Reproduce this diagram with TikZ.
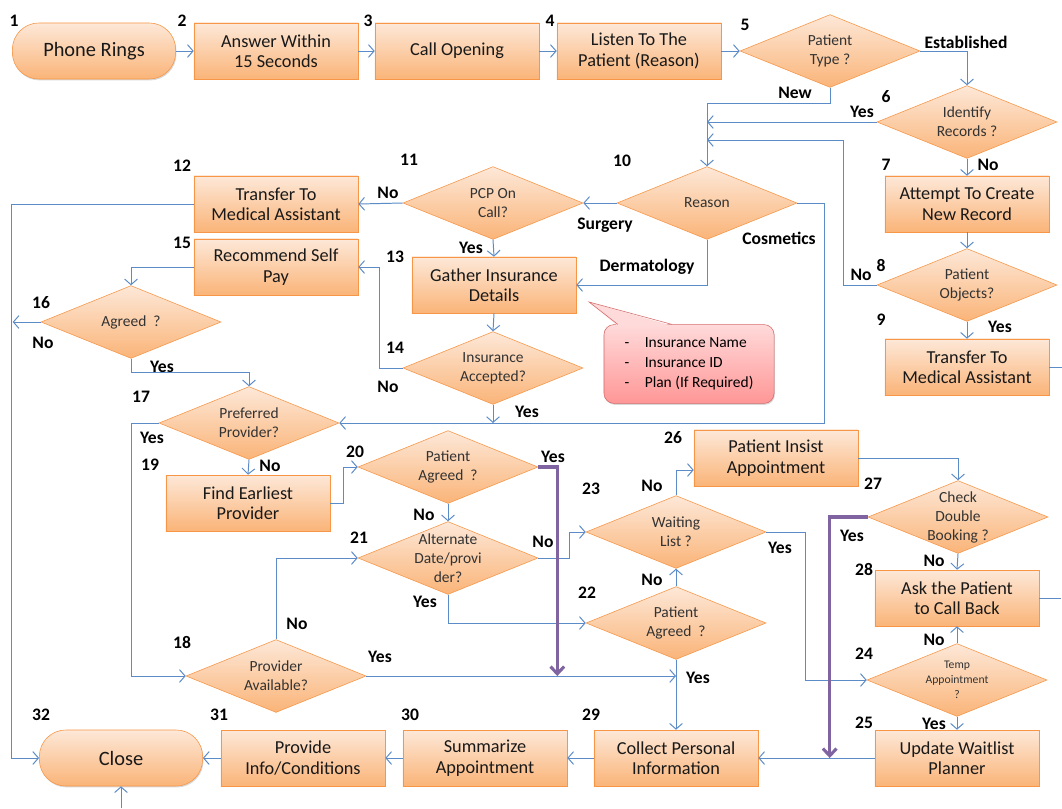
\documentclass[tikz,border=0pt]{standalone}
\usepackage{fontspec}
\setmainfont{Carlito}
\usepackage{tikz}
\usetikzlibrary{positioning, arrows.meta, shadows, shapes.geometric}

\definecolor{boxline}{RGB}{247,150,70}
\definecolor{boxtop}{RGB}{253,232,216}
\definecolor{boxbot}{RGB}{250,180,120}
\definecolor{flowblue}{RGB}{92,140,200}
\definecolor{pickpurple}{RGB}{128,100,162}
\definecolor{notetop}{RGB}{255,218,218}
\definecolor{notebot}{RGB}{255,150,150}
\definecolor{noteline}{RGB}{214,106,106}

\begin{document}
\begin{tikzpicture}[x=0.025cm, y=-0.025cm,
    stepbox/.style={draw=boxline, top color=boxtop, bottom color=boxbot, minimum width=4.1cm, minimum height=1.4cm, align=center, text=black!90, font=\fontsize{13}{14.5}\selectfont, drop shadow={shadow xshift=0.6pt, shadow yshift=-1pt, opacity=0.3}},
    ends/.style={stepbox, rounded corners=0.66cm, minimum width=4.08cm, font=\fontsize{14.5}{16}\selectfont},
    choice/.style={diamond, aspect=2.5, draw=boxline, top color=boxtop, bottom color=boxbot, minimum width=4.5cm, minimum height=1.82cm, inner sep=-4pt, align=center, text=black!80, font=\fontsize{11}{13.5}\selectfont},
    num/.style={font=\bfseries\fontsize{12.5}{14}\selectfont},
    lbl/.style={font=\bfseries\fontsize{12.5}{14}\selectfont},
    flow/.style={draw=flowblue, line width=0.7pt, -{Straight Barb[length=1.4mm, width=3.2mm]}},
    link/.style={draw=flowblue, line width=0.7pt},
    pick/.style={draw=pickpurple, line width=2.2pt, -{Straight Barb[length=1.8mm, width=3.4mm]}},
    note/.style={draw=noteline, top color=notetop, bottom color=notebot, rounded corners=0.25cm, minimum width=4.25cm, minimum height=1.97cm, align=left, font=\fontsize{11}{14.2}\selectfont, drop shadow={shadow xshift=0.6pt, shadow yshift=-1pt, opacity=0.3}}]

    \fill[white] (0,0) rectangle (1062,808);
    \useasboundingbox (0,0) rectangle (1062,808);

    % top row
    \node[ends] (phone) at (94,51) {Phone Rings};
    \node[stepbox] (answer) at (276,51) {Answer Within\\15 Seconds};
    \node[stepbox] (opening) at (457,51) {Call Opening};
    \node[stepbox] (listen) at (639,51) {Listen To The\\Patient (Reason)};
    \node[choice] (ptype) at (830,51) {Patient\\Type ?};

    % right column
    \node[choice] (ident) at (967,122) {Identify\\Records ?};
    \node[stepbox] (create) at (967,204) {Attempt To Create\\New Record};
    \node[choice] (objects) at (967,285) {Patient\\Objects?};
    \node[stepbox] (transR) at (967,367) {Transfer To\\Medical Assistant};

    % reason and insurance
    \node[choice] (reason) at (707,203) {Reason};
    \node[choice] (pcp) at (493,203) {PCP On\\Call?};
    \node[stepbox] (transL) at (276,204) {Transfer To\\Medical Assistant};
    \node[stepbox] (gather) at (494,285) {Gather Insurance\\Details};
    \node[choice] (insacc) at (493,368) {Insurance\\Accepted?};
    \node[stepbox] (selfpay) at (276,267) {Recommend Self\\Pay};
    \node[choice] (agreed) at (131,322) {Agreed\ \ ?};

    % insurance callout
    \node[note] (inslist) at (689,364)
        {-\hspace{1em}Insurance Name\\-\hspace{1em}Insurance ID\\-\hspace{1em}Plan (If Required)};
    \coordinate (notetip) at (589,302);
    \fill[notetop] ([xshift=0.35cm, yshift=-1pt]inslist.north west) -- (notetip) -- ([xshift=1.7cm, yshift=-1pt]inslist.north west) -- cycle;
    \draw[noteline] ([xshift=0.35cm]inslist.north west) -- (notetip) -- ([xshift=1.7cm]inslist.north west);

    % provider selection
    \node[choice] (pref) at (249,423) {Preferred\\Provider?};
    \node[stepbox] (earliest) at (248,503) {Find Earliest\\Provider};
    \node[choice] (pagree) at (448,467) {Patient\\Agreed\ \ ?};
    \node[choice] (altdate) at (448,558) {Alternate\\Date/provi\\der?};
    \node[choice] (provav) at (276,676) {Provider\\Available?};
    \node[choice] (wait) at (676,532) {Waiting\\List ?};
    \node[choice] (pagree2) at (676,623) {Patient\\Agreed\ \ ?};
    \node[stepbox] (insist) at (776,458) {Patient Insist\\Appointment};
    \node[choice] (dbl) at (958,517) {Check\\Double\\Booking ?};
    \node[stepbox] (callback) at (957,598) {Ask the Patient\\to Call Back};
    \node[choice, font=\fontsize{8.3}{10.5}\selectfont] (temp) at (957,680) {Temp\\Appointment\\?};

    % bottom row
    \node[stepbox] (update) at (957,758) {Update Waitlist\\Planner};
    \node[stepbox] (collect) at (676,758) {Collect Personal\\Information};
    \node[stepbox] (summ) at (485,758) {Summarize\\Appointment};
    \node[stepbox] (info) at (303,758) {Provide\\Info/Conditions};
    \node[ends] (close) at (121,758) {Close};

    % step numbers
    \foreach \n/\x/\y in {1/14/21, 2/182/21, 3/368/21, 4/550/21, 5/745/25, 6/886/97, 7/886/165, 8/881/265,
        9/881/320, 10/622/161, 11/409/160, 12/182/166, 13/395/257, 14/395/348, 15/182/243, 16/41/303,
        17/141/397, 18/182/642, 19/150/465, 20/355/452, 21/359/538, 22/587/593, 23/591/489, 24/864/654,
        25/864/723, 26/673/438, 27/873/484, 28/864/569, 29/591/715, 30/410/715, 31/219/715, 32/41/715}
      \node[num] (n\n) at (\x,\y) {\n};

    % branch labels
    \foreach \t/\x/\y [count=\i] in {Established/966/42, New/795/93, Yes/862/112, No/988/165, No/861/275,
        Yes/1000/327, Surgery/605/225, Cosmetics/779/238, Dermatology/647/267, No/388/193, Yes/471/248,
        No/388/387, Yes/527/412, No/43/343, Yes/162/367, Yes/152/438, No/270/466, Yes/553/457, No/424/515,
        No/543/542, Yes/425/602, No/297/624, Yes/380/657, No/652/486, No/652/580, Yes/698/678, Yes/780/548,
        Yes/852/536, No/934/561, No/934/640, Yes/934/724}
      \node[lbl] (lab\i) at (\x,\y) {\t};

    % connectors
    \draw[flow] (phone) -- (answer);
    \draw[flow] (answer) -- (opening);
    \draw[flow] (opening) -- (listen);
    \draw[flow] (listen) -- (ptype);
    \draw[flow] (ptype.east) -| (ident.north);
    \draw[flow] (ptype.south) -- ++(0,16) -| (reason.north);
    \draw[flow] (ident.west) -- (ident.west -| reason.north);
    \draw[flow] (ident.south) -- (create.north);
    \draw[flow] (create.south) -- (objects.north);
    \draw[flow] (objects.west) -| (843,140) -- (reason.north |- 0,140);
    \draw[flow] (objects.south) -- (transR.north);
    \draw[link] (transR.east) -- ++(16,0);

    \draw[flow] (reason.west) -- (pcp.east);
    \draw[flow] (reason.south) |- (gather.east);
    \draw[flow] (reason.east) -- ++(27,0) |- (pref.east);
    \draw[flow] (pcp.west) -- (transL.east);
    \draw[flow] (pcp.south) -- (gather.north);
    \draw[flow] (gather.south) -- (insacc.north);
    \draw[flow] (insacc.west) -- ++(-23,0) |- (selfpay.east);
    \draw[flow] (insacc.south) -- (insacc.south |- pref.east);
    \draw[flow] (transL.west) -- ++(-182,0) |- (close.west);
    \draw[flow] (selfpay.west) -| (agreed.north);
    \draw[flow] (agreed.west) -- ++(-28,0);
    \draw[flow] (agreed.south) -- ++(0,14) -| (pref.north);

    \draw[flow] (pref.west) -- ++(-27,0) |- (provav.west);
    \draw[flow] (pref.south) -- (earliest.north);
    \draw[flow] (earliest.east) -- ++(13,0) |- (pagree.west);
    \draw[flow] (pagree.south) -- (altdate.north);
    \draw[flow] (provav.north) |- (altdate.west);
    \draw[flow] (altdate.east) -- ++(31,0) |- (wait.west);
    \draw[flow] (altdate.south) |- (pagree2.west);
    \draw[flow] (provav.east) -- (provav.east -| collect.north);
    \draw[flow] (pagree2.north) -- (wait.south);
    \draw[flow] (pagree2.south) -- (collect.north);
    \draw[flow] (wait.north) |- ([yshift=-0.3cm]insist.west);
    \draw[flow] (wait.east) -- ++(39,0) |- (temp.west);
    \draw[flow] (insist.east) -| (dbl.north);
    \draw[flow] (dbl.south) -- (callback.north);
    \draw[link] (callback.east) -- ++(22,0);
    \draw[flow] (temp.north) -- (callback.south);
    \draw[flow] (temp.south) -- (update.north);

    \draw[flow] (update.west) -- (collect.east);
    \draw[flow] (collect.west) -- (summ.east);
    \draw[flow] (summ.west) -- (info.east);
    \draw[flow] (info.west) -- (close.east);
    \draw[flow] (close.south) ++(0,22) -- (close.south);

    % shortcuts
    \draw[pick] (pagree.east) -- ++(19,0) -- ++(0,209);
    \draw[pick] (dbl.west) -- ++(-38,0) -- ++(0,241);
\end{tikzpicture}
\end{document}
